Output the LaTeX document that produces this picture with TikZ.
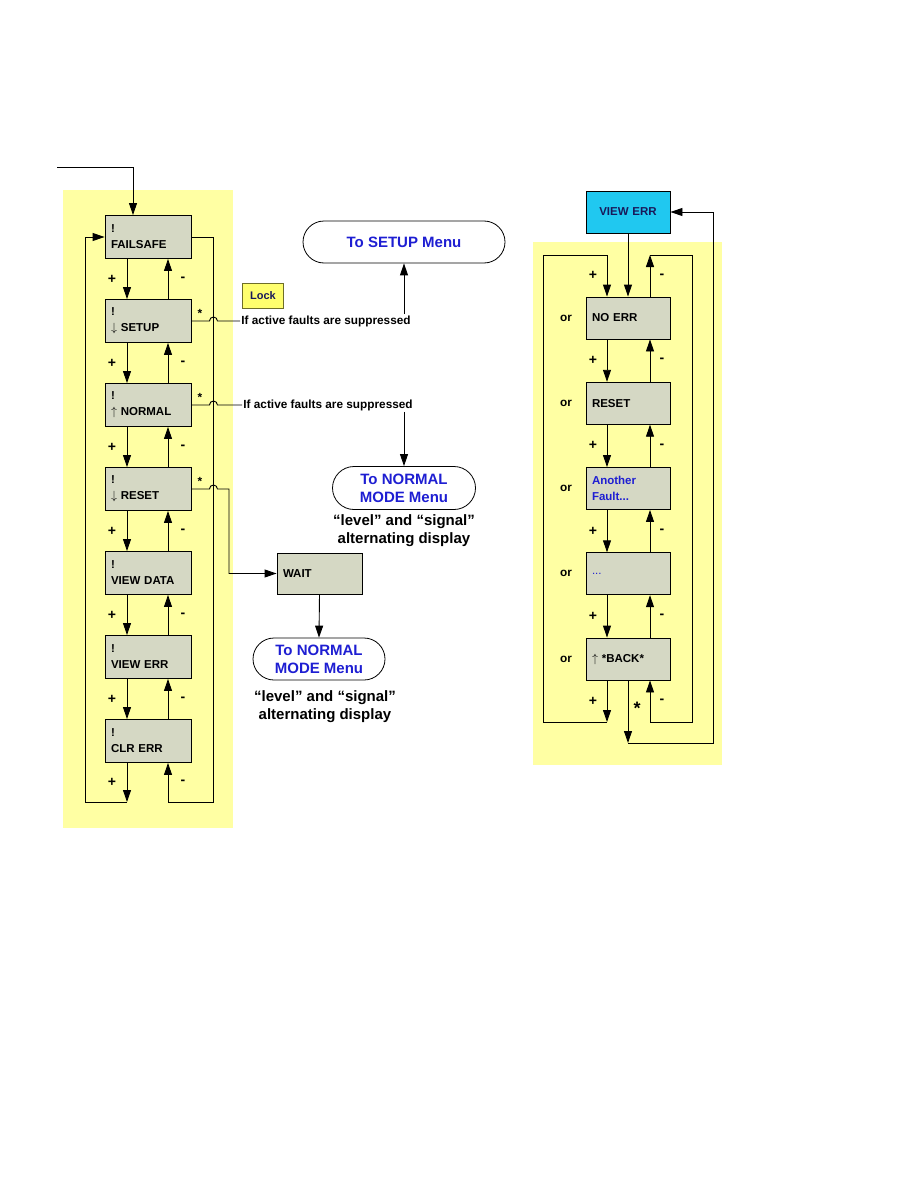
\documentclass[tikz,border=0pt]{standalone}
\usepackage{fontspec}
\setmainfont{Liberation Sans}
\usepackage{tikz}
\usetikzlibrary{arrows.meta,shapes.misc}

\definecolor{bgyellow}{RGB}{255,255,163}
\definecolor{lockyellow}{RGB}{255,255,110}
\definecolor{lockedge}{RGB}{110,110,40}
\definecolor{boxgray}{RGB}{213,216,196}
\definecolor{viewcyan}{RGB}{32,200,240}
\definecolor{menublue}{RGB}{30,30,210}
\definecolor{darknavy}{RGB}{25,25,90}

\begin{document}
\begin{tikzpicture}[x=1pt, y=-1pt, line width=0.9pt,
  >={Triangle[width=8pt,length=12pt]},
  menu/.style={draw, line width=0.8pt, rounded rectangle, align=center, inner sep=0pt, text=menublue, font=\fontsize{15}{18}\selectfont\bfseries},
  disp/.style={draw, fill=boxgray, minimum width=86pt, minimum height=43pt, inner xsep=6pt, text width=74pt, align=left, font=\fontsize{11.5}{16}\selectfont\bfseries},
  sign/.style={font=\fontsize{14}{14}\selectfont\bfseries},
  note/.style={inner sep=1pt, font=\fontsize{11.8}{13}\selectfont\bfseries},
  caption/.style={align=center, font=\fontsize{15}{18}\selectfont\bfseries}]
\useasboundingbox (0,0) rectangle (918,1188);
\fill[bgyellow] (63,190) rectangle (233,828);
\fill[bgyellow] (533,242) rectangle (722,765);

\foreach \i/\t in {1/{!\\FAILSAFE}, 2/{!\\$\downarrow$ SETUP}, 3/{!\\$\uparrow$ NORMAL}, 4/{!\\$\downarrow$ RESET}, 5/{!\\VIEW DATA}, 6/{!\\VIEW ERR}, 7/{!\\CLR ERR}} {
    \pgfmathsetmacro{\y}{237 + 84*(\i - 1)}
    \node[disp] (L\i) at (148, \y) {\t};
}
\foreach \i in {1,...,6} {
    \pgfmathtruncatemacro{\j}{\i + 1}
    \draw[->] ([xshift=-21pt]L\i.south) -- ([xshift=-21pt]L\j.north) node[sign, midway, xshift=-15pt] (P\i) {+};
    \draw[->] ([xshift=20pt]L\j.north) -- ([xshift=20pt]L\i.south) node[sign, midway, xshift=15pt] (N\i) {-};
}
\coordinate (in) at (57,167);
\coordinate (lb) at (127,802);
\coordinate (ll) at (85,802);
\coordinate (rb) at (213,802);
\coordinate (rc) at (168,802);
\draw[->] (in) -| ([xshift=-15pt]L1.north);
\draw[->] ([xshift=-21pt]L7.south) -- (lb) node[sign, midway, xshift=-15pt] (P7) {+};
\draw[->] (lb) -- (ll) |- (L1.west);
\draw (L1.east) -| (rb) -- (rc);
\draw[->] (rc) -- ([xshift=20pt]L7.south) node[sign, midway, xshift=15pt] (N7) {-};

\node[draw=lockedge, fill=lockyellow, minimum width=41pt, minimum height=25pt, text=darknavy, font=\fontsize{11}{13}\selectfont\bfseries] (lock) at (263,296) {Lock};
\node[note, anchor=west] (S1) at (240,321) {If active faults are suppressed};
\node[note, anchor=west] (S2) at (242,405) {If active faults are suppressed};
\node[note] (st1) at (200,313) {*};
\node[note] (st2) at (200,397) {*};
\node[note] (st3) at (200,481) {*};
\draw (L2.east) -- ++(18,0) arc[start angle=180, end angle=0, radius=4pt] -- (S1.west);
\draw (L3.east) -- ++(18,0) arc[start angle=180, end angle=0, radius=4pt] -- (S2.west);

\node[menu, minimum width=202pt, minimum height=42pt] (M1) at (404,242) {To SETUP Menu};
\node[menu, minimum width=143pt, minimum height=43pt] (M2) at (404,488) {To NORMAL\\MODE Menu};
\node[caption] (C2) at (404,531) {“level” and “signal”\\alternating display};
\draw[->] (S1.north -| M1.south) -- (M1.south);
\draw[->] (S2.south -| M2.north) -- (M2.north);

\node[disp, minimum width=85pt, minimum height=41pt, text width=73pt] (W) at (319.5,573.5) {WAIT};
\node[menu, minimum width=132pt, minimum height=42pt] (M3) at (319,659) {To NORMAL\\MODE Menu};
\node[caption] (C3) at (325,707) {“level” and “signal”\\alternating display};
\draw[->] (L4.east) -- ++(18,0) arc[start angle=180, end angle=0, radius=4pt] -- (229,489) |- (W.west);
\draw[->] (W.south) -- (M3.north);

\node[disp, fill=viewcyan, minimum width=84pt, minimum height=42pt, text width=72pt, align=center, text=darknavy] (V) at (628,212) {VIEW ERR};
\foreach \i/\t/\c in {1/NO ERR/black, 2/RESET/black, 3/{Another\\Fault...}/menublue, 4/{\mdseries ...}/menublue, 5/{$\uparrow$ *BACK*}/black} {
    \pgfmathsetmacro{\y}{318 + 85.25*(\i - 1)}
    \node[disp, minimum width=84pt, minimum height=42pt, text width=72pt, text=\c] (R\i) at (628, \y) {\t};
    \node[note] (O\i) at (566, \y) {or};
}
\foreach \i in {1,...,4} {
    \pgfmathtruncatemacro{\j}{\i + 1}
    \draw[->] ([xshift=-21pt]R\i.south) -- ([xshift=-21pt]R\j.north) node[sign, midway, xshift=-14pt] (RP\i) {+};
    \draw[->] ([xshift=22pt]R\j.north) -- ([xshift=22pt]R\i.south) node[sign, midway, xshift=12pt] (RN\i) {-};
}
\coordinate (pb) at (607,722);
\coordinate (pl) at (543,722);
\coordinate (pt) at (543,255);
\coordinate (mt) at (650,255);
\coordinate (mr) at (692,255);
\coordinate (mb) at (692,722);
\coordinate (mc) at (650,722);
\coordinate (sb) at (628,743);
\coordinate (sr) at (713,743);
\draw[->] (V.south) -- (R1.north);
\draw[->] (pb) -- (pl) -- (pt) -| ([xshift=-21pt]R1.north) node[sign, pos=0.75, xshift=-14pt] (RP0) {+};
\draw[->] ([xshift=22pt]R1.north) -- (mt) node[sign, midway, xshift=12pt] (RN0) {-};
\draw (mt) -- (mr) -- (mb) -- (mc);
\draw[->] ([xshift=-21pt]R5.south) -- (pb) node[sign, midway, xshift=-14pt] (RP5) {+};
\draw[->] (mc) -- ([xshift=22pt]R5.south) node[sign, midway, xshift=12pt] (RN5) {-};
\draw[->] (R5.south) -- (sb) node[pos=0.45, xshift=9pt, font=\fontsize{18}{18}\selectfont\bfseries] (st4) {*};
\draw[->] (sb) -- (sr) |- (V.east);
\end{tikzpicture}
\end{document}
